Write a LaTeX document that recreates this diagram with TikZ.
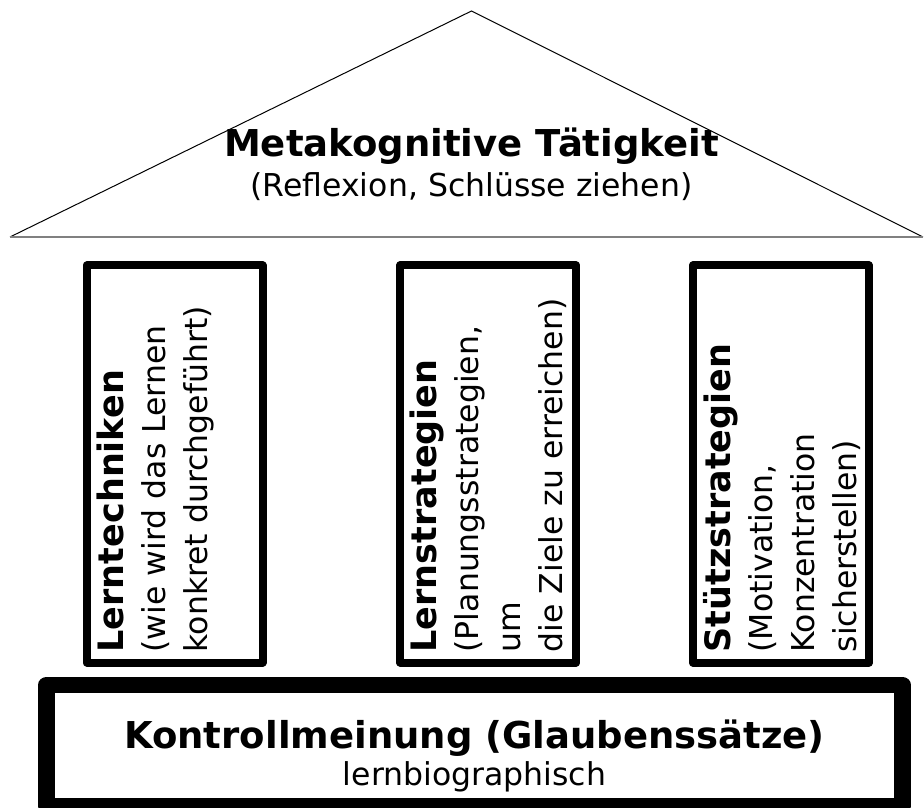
\documentclass[tikz,border=0pt]{standalone}
\usepackage{fontspec}
\setmainfont{DejaVu Sans}
\usetikzlibrary{calc,positioning}

\begin{document}
\begin{tikzpicture}[x=1pt,y=1pt,
  pillar/.style={draw,line width=8pt,line join=round,minimum width=176pt,minimum height=397pt,outer sep=0pt,inner sep=0pt},
  pillartext/.style={rotate=90,anchor=north west,align=left,inner sep=0pt,font=\fontsize{31.5}{42}\selectfont},
  headline/.style={anchor=base,font=\bfseries\fontsize{37}{44}\selectfont},
  subline/.style={anchor=base,font=\fontsize{31.5}{38}\selectfont}]
\useasboundingbox (0,0) rectangle (924,807);
% roof
\coordinate (top) at (471.5,796);
\coordinate (roofl) at (10,570);
\coordinate (roofr) at (923,570);
\draw[line width=1pt] (roofl) -- (top) -- (roofr);
\draw[line width=2pt,black!50] (roofl) -- (roofr);
\node[headline] (meta) at (471.5,650) {Metakognitive Tätigkeit};
\node[subline] (refl) at ([yshift=-40pt]meta.base) {(Reflexion, Schlüsse ziehen)};
% pillars
\node[pillar] (lt) at (174.6,343) {};
\node[pillar] (ls) at (488.3,343) {};
\node[pillar] (st) at (780.8,343) {};
\node[pillartext] (lttext) at ([shift={(10,10)}]lt.south west)
{{\bfseries\fontsize{35}{42}\selectfont Lerntechniken}\\(wie wird das Lernen\\konkret durchgeführt)};
\node[pillartext] (lstext) at ([shift={(9,10)}]ls.south west)
{{\bfseries\fontsize{35}{42}\selectfont Lernstrategien}\\(Planungsstrategien,\\um\\die Ziele zu erreichen)};
\node[pillartext] (sttext) at ([shift={(10,10)}]st.south west)
{{\bfseries\fontsize{35}{42}\selectfont Stützstrategien}\\(Motivation,\\Konzentration\\sicherstellen)};
% base
\node[draw,line width=16.5pt,line join=round,minimum width=856pt,minimum height=121pt,outer sep=0pt] (base) at (474.5,61.5) {};
\node[headline] (kontroll) at (474.5,59) {Kontrollmeinung (Glaubenssätze)};
\node[subline] (lernbio) at ([yshift=-37pt]kontroll.base) {lernbiographisch};
\end{tikzpicture}
\end{document}
